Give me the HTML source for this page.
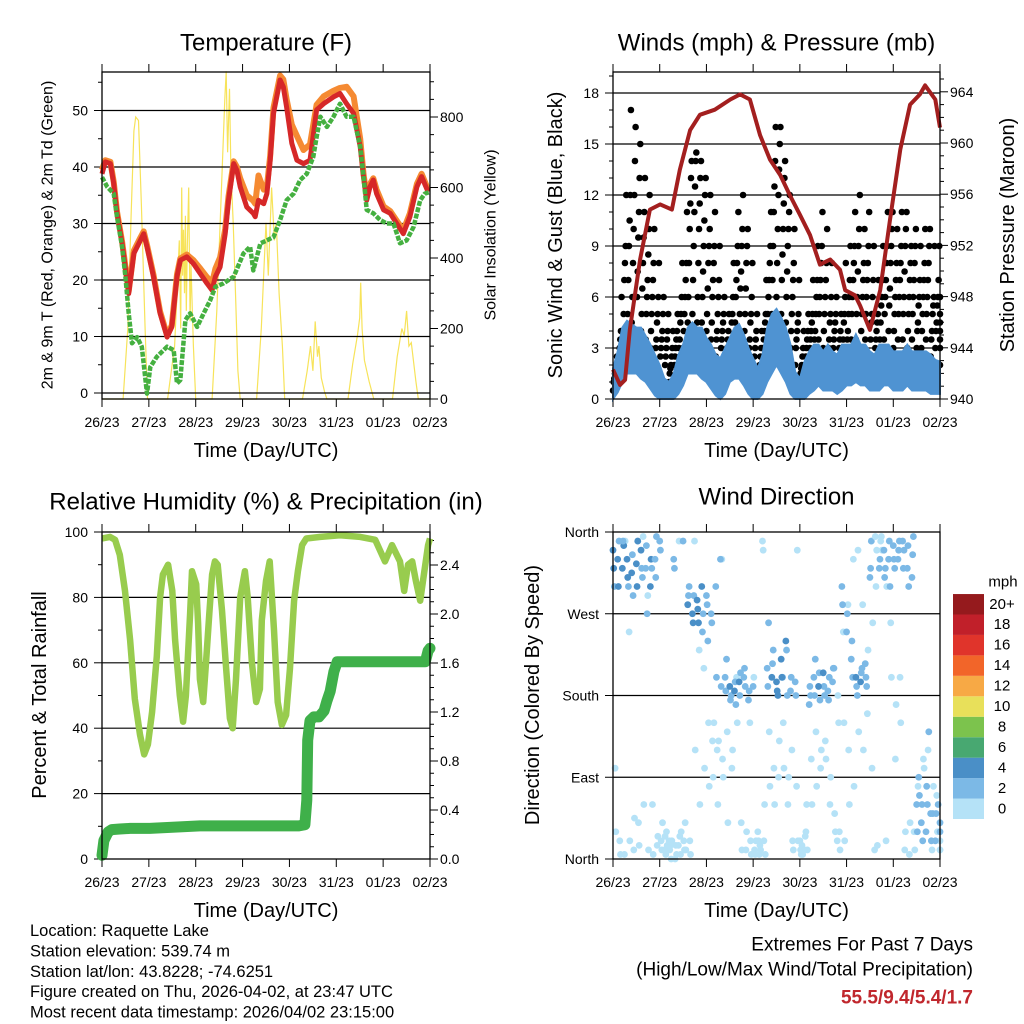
<!DOCTYPE html>
<html><head><meta charset="utf-8"><style>
html,body{margin:0;padding:0;background:#fff}
svg{display:block;font-family:"Liberation Sans",Arial,sans-serif}
</style></head><body>
<svg id="c" width="1024" height="1024" viewBox="0 0 1024 1024"></svg>
<script>
// ---------- DATA ----------
const dayLabels=["26/23","27/23","28/23","29/23","30/23","31/23","01/23","02/23"];
const tempDays=[0,0.07,0.18,0.25,0.32,0.43,0.57,0.68,0.82,0.89,0.96,1.10,1.24,1.39,1.49,1.60,1.67,1.81,1.95,2.10,2.24,2.35,2.42,2.52,2.63,2.70,2.81,2.88,2.95,3.09,3.23,3.27,3.34,3.45,3.52,3.59,3.66,3.80,3.87,3.94,4.05,4.16,4.30,4.44,4.58,4.73,4.94,5.08,5.22,5.37,5.51,5.58,5.65,5.72,5.79,5.86,6.01,6.15,6.29,6.43,6.57,6.72,6.82,6.96];
const tempRed=[38.8,40.9,40.6,37.1,31.8,26.5,17.6,24.7,27.0,28.2,25.9,20.6,14.1,9.9,11.7,20.6,23.5,24.1,22.9,21.1,19.4,18.2,20.6,22.3,28.2,34.1,40.6,39.4,36.5,32.9,31.8,31.2,34.1,33.5,35.3,41.2,49.5,55.4,54.2,50.6,44.2,41.2,40.6,41.2,50.1,51.2,52.4,53.0,51.2,49.5,43.6,38.3,34.1,36.5,37.7,35.3,32.4,31.8,30.0,28.2,31.2,36.5,38.3,35.6];
const tempOrange=[39.5,41.2,40.9,37.4,32.1,26.8,18.0,25.2,27.5,28.6,26.2,20.9,14.4,10.2,12.0,21.0,23.8,24.5,23.5,22.0,20.5,19.5,22.0,24.0,29.0,34.8,41.0,40.0,38.0,35.0,34.0,33.5,38.5,36.0,36.5,42.0,50.5,56.2,55.5,52.0,47.5,45.5,43.0,44.0,51.0,52.5,53.5,54.0,54.2,52.5,45.0,38.8,34.6,37.0,38.0,36.0,33.0,32.2,30.5,28.8,31.8,37.0,38.8,36.0];
const tdDays=[0,0.11,0.25,0.32,0.43,0.50,0.57,0.64,0.75,0.85,0.96,1.03,1.17,1.39,1.53,1.60,1.67,1.78,1.88,2.03,2.17,2.31,2.42,2.59,2.81,3.02,3.16,3.23,3.38,3.52,3.66,3.80,3.94,4.09,4.23,4.37,4.51,4.58,4.66,4.80,4.94,5.08,5.22,5.37,5.51,5.58,5.65,5.79,5.94,6.08,6.22,6.36,6.50,6.65,6.79,6.89,7.0];
const tdGreen=[38.2,36.5,35.3,31.2,25.9,20.6,14.1,8.8,9.9,8.2,-0.1,4.6,6.4,8.2,7.6,1.7,2.3,12.9,14.1,11.7,14.1,16.4,18.8,19.4,20.6,24.7,25.9,21.7,26.5,27.0,27.6,30.6,34.1,35.3,37.7,38.8,41.8,45.3,48.9,47.1,48.9,51.2,48.9,48.9,43.6,38.3,32.4,31.8,30.6,30.0,30.0,26.5,27.0,29.4,34.1,35.3,35.6];
const solarDays=[0,0.45,0.55,0.62,0.68,0.72,0.78,0.84,0.92,0.97,1.4,1.55,1.6,1.65,1.68,1.7,1.72,1.74,1.76,1.78,1.8,1.82,1.85,1.88,1.9,1.95,2.0,2.35,2.45,2.55,2.62,2.65,2.68,2.72,2.75,2.8,2.85,2.9,2.95,3.3,3.4,3.5,3.55,3.62,3.68,3.72,3.78,3.85,3.9,4.28,4.38,4.45,4.5,4.55,4.6,4.63,4.68,4.75,4.8,5.25,5.35,5.45,5.5,5.52,5.55,5.6,5.7,5.8,6.2,6.3,6.4,6.45,6.5,6.55,6.6,6.7,6.75,7.0];
const solarVals=[0,0,200,520,760,800,790,550,200,0,0,150,300,450,200,600,350,480,300,520,250,430,600,220,380,150,0,0,250,600,850,930,700,880,650,500,300,80,0,0,200,500,350,600,450,500,300,150,0,0,80,150,80,220,120,150,60,20,0,0,100,180,230,330,200,110,50,0,0,120,200,180,250,150,160,50,0,0];

const presDays=[0,0.15,0.26,0.36,0.58,0.79,1.01,1.26,1.43,1.65,1.86,2.18,2.51,2.72,2.93,3.15,3.36,3.58,3.79,4.0,4.22,4.43,4.65,4.86,4.97,5.18,5.29,5.5,5.72,5.93,6.15,6.36,6.57,6.68,6.9,7.0];
const presVals=[942.3,941.1,941.5,945.4,950.9,954.8,955.2,954.8,957.9,961.0,962.2,962.6,963.4,963.8,963.4,960.6,958.7,957.5,955.9,954.4,952.8,950.5,950.9,950.1,948.5,948.1,947.3,945.4,948.5,954.0,959.5,963.0,963.8,964.5,963.4,961.2];
const windHi=[1.8,2.8,4.2,4.6,4.4,4.2,4.2,3.7,3.2,2.6,2,1.2,1,1.5,2.6,3.2,4.2,4.5,4.2,4.2,3.6,3.2,2.6,2.4,3,3.6,4.2,4.4,3.8,3,2.4,1.8,2.6,4.2,5,5.3,4.8,4.2,3.2,1.6,1.2,2.2,2.8,3.2,3.2,2.8,3.2,2.8,2.6,3.2,3.2,3.2,3.8,3.2,3.2,2.8,2.6,3.2,3.2,3.2,2.8,2.8,2.8,3.2,2.8,2.8,2.8,2.8,2.6,2.3,2.2];
const windLo=[0,0.4,1,1.5,1.5,1.5,1.2,1,0.6,0.2,0,0,0,0,0.3,0.8,1.5,1.5,1.5,1.2,1,0.6,0.2,0,0.3,1,1.2,1.2,0.8,0.3,0,0,0.3,1,1.5,2,1.5,1,0.3,0,0,0,0.3,0.5,0.8,0.5,0.5,0.5,0.3,0.5,0.8,0.8,1,0.8,0.8,0.5,0.5,0.5,0.8,0.8,0.5,0.5,0.5,0.8,0.5,0.5,0.5,0.5,0.3,0.3,0.3];
const gustA=[2,4,9,12,14,13,11,10,8,6,5,4,3,4,6,8,13,14,13,12,10,9,7,5,4,6,9,10,9,6,4,3,5,9,14,15,13,11,8,5,3,4,5,7,9,8,6,5,4,6,7,9,10,8,9,7,5,7,9,10,8,9,10,8,9,7,8,9,6,7,5];
const gustB=[1.5,3,7,9,10,9.5,8,7,6,4.5,3.5,3,2,3,4.5,6,10,11,10,9,8,7,5,4,3,4.5,7,7.5,6.5,4.5,3,2,4,7,11,12,10,9,6,4,2,3,4,5,7,6,4.5,4,3,4.5,5,7,7.5,6,7,5,4,5.5,7,8,6,7,7.5,6,7,5.5,6,7,5,5.5,4];
const gustC=[1,2,4,5,6,6,5,5,4,3,2.5,2,1.5,2,3,4,6,7,6,6,5,4.5,3.5,3,2,3,4.5,5,4,3,2,1.5,3,5,7,8,7,6,4,3,1.5,2,3,3.5,5,4,3,3,2,3,3.5,5,5,4,5,3.5,3,3.5,5,5.5,4,5,5,4,5,4,4,5,3.5,4,3];
const gustD=[2.5,6,12,17,16,15,13,12,10,8,6,5,4,5,8,11,14,14.5,14,13,12,11,9,6,5,8,11,12,10,8,5,4,7,11,16,16,14,12,10,7,4,5,7,9,11,10,8,6,5,8,9,11,12,10,11,9,7,9,11,11,10,11,11,9,10,9,10,10,9,9,6];
const gustE=[1.2,2.5,5,7,8,7.5,6.5,6,5,3.5,3,2.5,1.8,2.5,3.5,5,8,9,8,7.5,6.5,6,4,3.5,2.5,3.5,6,6.5,5,3.5,2.5,1.8,3.5,6,9,10,8.5,7.5,5,3.5,1.8,2.5,3.5,4,6,5,3.5,3.5,2.5,3.5,4,6,6,5,6,4.5,3.5,4.5,6,6.5,5,6,6,5,6,4.5,5,6,4,4.5,3.5];
const gustF=[1.8,3.5,8,10.5,12,11,9.5,8.5,7,5,4,3.5,2.5,3.5,5,7,11.5,12.5,11.5,10.5,9,8,6,4.5,3.5,5,8,9,8,5,3.5,2.5,4.5,8,12.5,13.5,11.5,10,7,4.5,2.5,3.5,4.5,6,8,7,5,4.5,3.5,5,6,8,9,7,8,6,4.5,6,8,9,7,8,9,7,8,6,7,8,5.5,6,4.5];
const gustG=[0.5,1.5,3,3.5,4.5,4,4,3.5,3,2,1.5,1,1,1,2,3,4.5,5,4.5,4.5,4,3.5,2.5,2,1.5,2,3.5,4,3,2,1,1,2,4,5,6,5,4.5,3,2,1,1.5,2,2.5,3.5,3,2,2,1.5,2,2.5,3.5,3.5,3,3.5,2.5,2,2.5,3.5,4,3,3.5,3.5,3,3.5,3,3,3.5,2.5,3,2];

const rhDays=[0,0.17,0.28,0.38,0.49,0.6,0.7,0.81,0.9,0.98,1.07,1.17,1.24,1.3,1.41,1.5,1.56,1.66,1.73,1.79,1.88,1.92,2.01,2.05,2.09,2.16,2.22,2.29,2.35,2.41,2.47,2.56,2.65,2.73,2.79,2.86,2.95,3.05,3.11,3.2,3.29,3.37,3.41,3.5,3.58,3.67,3.75,3.84,3.93,4.01,4.1,4.18,4.27,4.36,4.66,5.08,5.51,5.83,6.04,6.19,6.36,6.45,6.53,6.62,6.7,6.79,6.87,6.96,7.0];
const rhVals=[98,98.5,97.6,93,82,67,49,38,32,35,45,62,80,87,90,82,67,50,42,50,75,88,84,72,55,48,60,75,87,91,90,76,58,43,40,55,80,88,80,60,48,52,73,85,91,70,48,41,44,58,79,88,96,98,98.5,99,98.5,97.6,91,96,91,82,90,91,85,79,87,96,98];
const precDays=[0,0.04,0.13,0.21,0.38,0.6,1.02,2.09,3.16,4.2,4.33,4.37,4.39,4.44,4.52,4.63,4.74,4.8,4.87,4.95,5.02,5.17,6.36,6.9,6.96,7.0];
const precVals=[0.03,0.15,0.22,0.24,0.245,0.25,0.25,0.27,0.27,0.27,0.28,0.48,0.97,1.13,1.16,1.16,1.21,1.29,1.37,1.53,1.61,1.61,1.61,1.61,1.70,1.72];

const dirA=[340,330,320,330,315,325,340,320,300,330,350,10,20,330,15,350,280,270,285,300,290,270,300,330,200,190,185,195,200,175,190,30,350,210,200,195,220,240,185,195,20,10,170,200,190,205,185,195,20,300,250,220,200,195,215,310,10,320,340,330,345,330,350,320,310,60,40,30,50,20,40];
const spdA=[4,5,5,4,5,4,4,3,4,3,2,1,1,2,1,2,4,5,4,4,3,2,2,2,3,4,4,4,3,2,2,1,1,3,4,5,4,4,3,2,1,1,2,3,4,4,3,2,1,2,2,3,4,4,3,3,1,2,3,3,3,3,3,2,3,2,3,3,2,2,2];
const dirB=[300,350,345,300,290,350,310,270,320,355,20,5,15,0,25,10,300,290,260,270,240,130,120,330,220,180,170,205,190,150,10,5,20,260,230,180,200,180,120,80,5,30,180,220,175,180,200,210,150,250,280,200,180,210,190,350,300,350,320,300,320,350,340,300,355,80,20,60,10,70,10];
const spdB=[3,3,4,3,3,4,3,3,3,3,1,1,1,1,1,1,3,3,4,3,2,1,1,1,2,3,3,3,3,1,1,1,1,2,3,4,3,3,1,1,1,1,2,2,3,3,3,2,1,1,1,2,3,3,2,2,1,1,2,2,2,2,2,2,2,1,2,2,1,1,1];
const dirC=[100,20,5,250,10,40,355,290,60,15,10,30,0,15,5,40,20,350,230,210,150,90,60,110,140,100,200,40,10,20,5,15,60,140,100,90,150,60,20,340,15,60,110,140,100,130,60,50,30,150,120,330,340,280,160,100,340,355,20,260,110,200,10,5,30,90,110,120,50,30,20];
const spdC=[1,1,0,1,0,1,1,1,1,0,1,0,1,0,1,1,1,1,1,0,1,1,0,1,1,1,1,0,1,0,1,0,1,1,1,1,1,0,1,1,0,1,1,1,1,1,0,1,0,1,1,1,1,1,1,1,0,1,0,1,1,1,0,1,1,2,1,1,2,1,0];
const dirD=[320,300,350,310,335,300,320,345,330,310,340,25,10,320,350,20,290,260,275,250,280,260,200,190,185,175,195,180,210,185,200,20,340,190,215,185,200,230,200,180,10,25,190,180,205,190,175,210,180,280,270,240,190,205,200,320,355,330,310,350,330,340,320,345,335,30,60,80,20,50,30];
const spdD=[4,4,3,4,3,4,3,3,4,3,2,1,1,2,1,1,3,4,4,3,3,3,2,3,3,3,3,3,2,2,1,1,1,3,3,4,4,3,3,2,1,1,2,3,3,3,3,2,1,2,2,3,3,3,3,3,1,2,2,3,3,2,3,3,2,2,3,2,3,2,2];
const dirE=[30,5,350,20,45,15,60,10,5,25,40,15,20,5,30,10,5,120,60,100,80,150,130,90,40,120,150,10,30,5,20,10,5,80,60,130,100,90,10,20,5,10,60,80,120,110,90,30,10,20,60,80,140,120,230,260,15,340,300,200,170,150,30,40,10,70,100,140,80,60,10];
const spdE=[1,0,1,1,1,0,1,1,0,1,1,1,0,1,1,0,1,1,1,1,1,0,1,1,1,1,0,1,0,1,1,0,1,1,1,0,1,1,0,1,1,0,1,1,1,1,0,1,1,0,1,1,1,0,1,1,0,1,1,1,1,0,1,1,0,2,1,2,1,2,1];
const cbLabels=["0","2","4","6","8","10","12","14","16","18","20+"];
const cbColors=["#b5e2f7","#7cb9e6","#4a8fc7","#48a871","#7cc34d","#e8e05a","#f7a945","#f26529","#e0342b","#c1202a","#951a1d"];

// ---------- HELPERS ----------
const NS="http://www.w3.org/2000/svg";
const svg=document.getElementById('c');
function mk(tag,attrs,parent){const e=document.createElementNS(NS,tag);for(const k in attrs)e.setAttribute(k,attrs[k]);(parent||svg).appendChild(e);return e;}
function txt(s,x,y,size,anchor,parent,extra){const e=mk('text',Object.assign({x:x,y:y,'font-size':size,'text-anchor':anchor||'middle','dominant-baseline':'central',fill:'#000'},extra||{}),parent);e.textContent=s;return e;}
function pts(xs,ys,fx,fy){return xs.map((d,i)=>fx(d).toFixed(1)+','+fy(ys[i]).toFixed(1)).join(' ');}
function colorFor(s){let i=Math.floor(s/2);if(i<0)i=0;if(i>10)i=10;return cbColors[i];}

function panel(name,P,title,titleY){
  const g=mk('g',{});
  
  
  const t=txt(title,(P.x0+P.x1)/2,titleY,24,'middle',g);
  
  
  return g;
}
function xAxis(g,P,name){
  const xs=d=>P.x0+d*(P.x1-P.x0)/7;
  dayLabels.forEach((l,i)=>{
    const x=xs(i);
    mk('line',{x1:x,x2:x,y1:P.y1,y2:P.y1+8,stroke:'#000','stroke-width':1},g);
    mk('line',{x1:x,x2:x,y1:P.y0,y2:P.y0-8,stroke:'#000','stroke-width':1},g);
    const t=txt(l,x,P.y1+23,14,'middle',g);
    
    
  });
  const at=txt('Time (Day/UTC)',(P.x0+P.x1)/2,P.y1+52,20,'middle',g);
  
  
  return xs;
}
function yTicks(g,P,vals,labels,fy,side,minor,name,grid){
  vals.forEach((v,i)=>{
    const y=fy(v);
    if(grid&&y>P.y0+1&&y<P.y1-1) mk('line',{x1:P.x0,x2:P.x1,y1:y,y2:y,stroke:'#000','stroke-width':1.2},g);
    const x=side==='l'?P.x0:P.x1;
    mk('line',{x1:x,x2:side==='l'?x-8:x+8,y1:y,y2:y,stroke:'#000','stroke-width':1},g);
    const t=txt(labels[i],side==='l'?P.x0-14:P.x1+10,y,14,side==='l'?'end':'start',g);
    
    
  });
  (minor||[]).forEach(v=>{const y=fy(v);const x=side==='l'?P.x0:P.x1;
    mk('line',{x1:x,x2:side==='l'?x-4:x+4,y1:y,y2:y,stroke:'#000','stroke-width':1},g);});
}
function yTitle(g,s,x,y,size,name){
  const t=txt(s,x,y,size,'middle',g,{transform:'rotate(-90 '+x+' '+y+')'});
  
  
}
function frame(g,P){mk('rect',{x:P.x0,y:P.y0,width:P.x1-P.x0,height:P.y1-P.y0,fill:'none',stroke:'#000','stroke-width':1.3},g);}

// ---------- PANEL 1: TEMPERATURE ----------
(function(){
  const P={x0:102,x1:430,y0:72,y1:399};
  const g=panel('temperature-chart',P,'Temperature (F)',43);
  const yL=v=>393-v*5.65, yR=v=>399-v*0.3525;
  const xs=d=>P.x0+d*(P.x1-P.x0)/7;
  const sol=mk('polyline',{points:pts(solarDays,solarVals,xs,yR),fill:'none',stroke:'#f7e35a','stroke-width':1.2},g);
  
  
  yTicks(g,P,[0,10,20,30,40,50],["0","10","20","30","40","50"],yL,'l',[5,15,25,35,45,55],'temp-left',true);
  yTicks(g,P,[0,200,400,600,800],["0","200","400","600","800"],yR,'r',[50,100,150,250,300,350,450,500,550,650,700,750,850,900],'solar-right',false);
  const o=mk('polyline',{points:pts(tempDays,tempOrange,xs,yL),fill:'none',stroke:'#f58a32','stroke-width':6,'stroke-linejoin':'round'},g);
  
  
  const r=mk('polyline',{points:pts(tempDays,tempRed,xs,yL),fill:'none',stroke:'#d62728','stroke-width':5,'stroke-linejoin':'round'},g);
  
  
  const gr=mk('polyline',{points:pts(tdDays,tdGreen,xs,yL),fill:'none',stroke:'#45b040','stroke-width':4.5,'stroke-linejoin':'round','stroke-dasharray':'5 1.5'},g);
  
  
  frame(g,P);
  xAxis(g,P,'temp');
  yTitle(g,'2m & 9m T (Red, Orange) & 2m Td (Green)',48,235,16,'temp-y-axis-title');
  yTitle(g,'Solar Insolation (Yellow)',491,235,16,'solar-y-axis-title');
})();

// ---------- PANEL 2: WINDS ----------
(function(){
  const P={x0:613,x1:940,y0:72,y1:399};
  const g=panel('winds-chart',P,'Winds (mph) & Pressure (mb)',43);
  const yL=v=>399-v*17.0, yR=p=>399-(p-940)*12.8;
  const xs=d=>P.x0+d*(P.x1-P.x0)/7;
  yTicks(g,P,[0,3,6,9,12,15,18],["0","3","6","9","12","15","18"],yL,'l',[1,2,4,5,7,8,10,11,13,14,16,17,19],'wind-left',true);
  yTicks(g,P,[940,944,948,952,956,960,964],["940","944","948","952","956","960","964"],yR,'r',[941,942,943,945,946,947,949,950,951,953,954,955,957,958,959,961,962,963,965],'pressure-right',false);
  [gustG,gustC,gustE,gustB,gustF,gustA,gustD].forEach((arr,li)=>{
    arr.forEach((v,i)=>{
      const c=mk('circle',{cx:xs(Math.min(7,i*0.1+li*0.014)),cy:yL(v),r:3.3,fill:'#000'},g);
      
      
    });
  });
  const top=windHi.map((v,i)=>xs(i*0.1).toFixed(1)+','+yL(v).toFixed(1));
  const bot=windLo.map((v,i)=>xs(i*0.1).toFixed(1)+','+yL(v).toFixed(1)).reverse();
  const w=mk('polygon',{points:top.concat(bot).join(' '),fill:'#4f93d2',stroke:'#4f93d2','stroke-width':2},g);
  
  
  const p=mk('polyline',{points:pts(presDays,presVals,xs,yR),fill:'none',stroke:'#a31f1f','stroke-width':4,'stroke-linejoin':'round'},g);
  
  
  frame(g,P);
  xAxis(g,P,'winds');
  yTitle(g,'Sonic Wind & Gust (Blue, Black)',556,235,20,'wind-y-axis-title');
  yTitle(g,'Station Pressure (Maroon)',1008,235,20,'pressure-y-axis-title');
})();

// ---------- PANEL 3: RH & PRECIP ----------
(function(){
  const P={x0:102,x1:430,y0:532,y1:859};
  const g=panel('humidity-precip-chart',P,'Relative Humidity (%) & Precipitation (in)',502);
  const yL=v=>859-v*3.27, yR=v=>859-v*122.5;
  const xs=d=>P.x0+d*(P.x1-P.x0)/7;
  yTicks(g,P,[0,20,40,60,80,100],["0","20","40","60","80","100"],yL,'l',[10,30,50,70,90],'rh-left',true);
  yTicks(g,P,[0,0.4,0.8,1.2,1.6,2.0,2.4],["0.0","0.4","0.8","1.2","1.6","2.0","2.4"],yR,'r',[0.1,0.2,0.3,0.5,0.6,0.7,0.9,1.0,1.1,1.3,1.4,1.5,1.7,1.8,1.9,2.1,2.2,2.3,2.5,2.6],'precip-right',false);
  const rh=mk('polyline',{points:pts(rhDays,rhVals,xs,yL),fill:'none',stroke:'#98cc4e','stroke-width':6.5,'stroke-linejoin':'round'},g);
  
  
  const pr=mk('polyline',{points:pts(precDays,precVals,xs,yR),fill:'none',stroke:'#3fb04a','stroke-width':11,'stroke-linejoin':'round','stroke-linecap':'round'},g);
  
  
  frame(g,P);
  xAxis(g,P,'rh');
  yTitle(g,'Percent & Total Rainfall',40,695,20,'rh-y-axis-title');
})();

// ---------- PANEL 4: WIND DIRECTION ----------
(function(){
  const P={x0:613,x1:940,y0:532,y1:859};
  const g=panel('wind-direction-chart',P,'Wind Direction',497);
  const yD=d=>859-d*(327/360);
  const xs=d=>P.x0+d*(P.x1-P.x0)/7;
  yTicks(g,P,[0,90,180,270,360],["North","East","South","West","North"],yD,'l',[],'dir-left',true);
  [[dirE,spdE,0.06],[dirC,spdC,0.045],[dirB,spdB,0.03],[dirD,spdD,0.015],[dirA,spdA,0]].forEach(L=>{
    L[0].forEach((v,i)=>{
      const c=mk('circle',{cx:xs(Math.min(7,i*0.1+L[2])),cy:yD(v),r:3.4,fill:colorFor(L[1][i])},g);
      
      
    });
  });
  frame(g,P);
  xAxis(g,P,'dir');
  yTitle(g,'Direction (Colored By Speed)',533,695,20,'dir-y-axis-title');
  const cb=mk('g',{},g);
  
  
  const u=txt('mph',1003,582,15,'middle',cb);
  
  
  cbColors.forEach((c,i)=>{
    const y=819-(i+1)*20.45;
    const r=mk('rect',{x:953,y:y,width:31,height:20.45,fill:c},cb);
    
    
    const t=txt(cbLabels[i],1002,y+10.2,15,'middle',cb);
    
    
  });
})();

// ---------- FOOTER TEXT ----------
(function(){
  const lines=["Location: Raquette Lake","Station elevation: 539.74 m","Station lat/lon: 43.8228; -74.6251","Figure created on Thu, 2026-04-02, at 23:47 UTC","Most recent data timestamp: 2026/04/02 23:15:00"];
  lines.forEach((s,i)=>{
    const t=txt(s,30,931+i*20.4,16.5,'start');
    
    
  });
  const a=txt('Extremes For Past 7 Days',973,945,19,'end');
  
  
  const b=txt('(High/Low/Max Wind/Total Precipitation)',973,970,19,'end');
  
  
  const c=txt('55.5/9.4/5.4/1.7',973,998,19,'end',null,{fill:'#c0272d','font-weight':'bold'});
  
  
})();
</script>
</body></html>
